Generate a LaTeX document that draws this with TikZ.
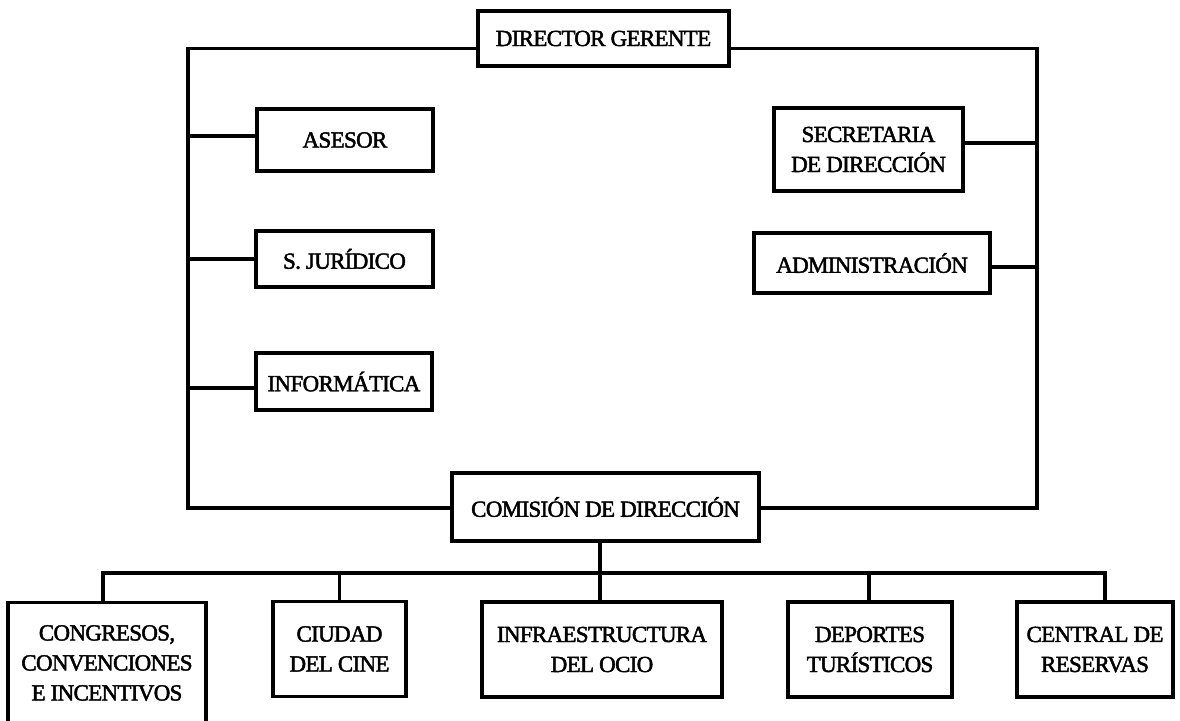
\documentclass[tikz,border=0pt]{standalone}
\usepackage{fontspec}
\newfontfamily\boxfont{Liberation Serif}[FakeBold=2,LetterSpace=-3]
\usetikzlibrary{calc}
\tikzset{
  box/.style={draw, line width=3.2pt, rectangle, inner sep=0pt, align=center,
    font=\boxfont\fontsize{23}{30}\selectfont},
  boxtext/.style={inner sep=0pt, align=center, font=\boxfont\fontsize{23}{30}\selectfont},
  conn/.style={line width=3.2pt, line join=miter}
}
\begin{document}
\begin{tikzpicture}[x=1pt,y=-1pt]
\clip (0,0) rectangle (1180,720);
\fill[white] (0,0) rectangle (1180,720);
% upper boxes
\node[box, minimum width=251, minimum height=55] (dir) at (603.5,38.5) {DIRECTOR GERENTE};
\node[box, minimum width=176, minimum height=62] (ases) at (345,140) {ASESOR};
\node[box, minimum width=177, minimum height=56] (jur) at (344.5,259) {S. JURÍDICO};
\node[box, minimum width=176, minimum height=57] (inf) at (344,381.5) {INFORMÁTICA};
\node[box, minimum width=189, minimum height=83] (sec) at (868.5,149.5) {SECRETARIA\\DE DIRECCIÓN};
\node[box, minimum width=236, minimum height=60] (adm) at (872,263) {ADMINISTRACIÓN};
\node[box, minimum width=307, minimum height=68] (com) at (605.5,507) {COMISIÓN DE DIRECCIÓN};
% lower boxes
\node[box, minimum width=198, minimum height=140, anchor=north] (cong) at (107,601) {};
\node[boxtext] (congt) at (107,663) {CONGRESOS,\\CONVENCIONES\\E INCENTIVOS};
\node[box, minimum width=133, minimum height=95] (ciu) at (339.5,649) {CIUDAD\\DEL CINE};
\node[box, minimum width=240, minimum height=95] (infra) at (602,649.5) {INFRAESTRUCTURA\\DEL OCIO};
\node[box, minimum width=164, minimum height=95] (dep) at (870,649.5) {DEPORTES\\TURÍSTICOS};
\node[box, minimum width=156, minimum height=95] (cen) at (1095,649.5) {CENTRAL DE\\RESERVAS};
% frame coordinates
\coordinate (tl) at (188,48.5);
\coordinate (tr) at (1037,48.5);
\coordinate (bl) at (188,508);
\coordinate (br) at (1037,508);
\coordinate (bus) at (600,573);
% frame
\draw[conn] ([yshift=-10pt]dir.west) -- (tl) -- (bl) -- (com.west |- bl);
\draw[conn] ([yshift=-10pt]dir.east) -- (tr) -- (br) -- (com.east |- br);
% staff connectors
\draw[conn] ([yshift=4pt]ases.west) -- ([yshift=4pt]ases.west -| tl);
\draw[conn] (jur.west) -- (jur.west -| tl);
\draw[conn] ([yshift=-6.5pt]inf.west) -- ([yshift=-6.5pt]inf.west -| tl);
\draw[conn] ([yshift=6.5pt]sec.east) -- ([yshift=6.5pt]sec.east -| tr);
\draw[conn] ([yshift=-4pt]adm.east) -- ([yshift=-4pt]adm.east -| tr);
% lower bus
\draw[conn] (com.south -| bus) -- ([xshift=-2pt]infra.north);
\draw[conn] ([xshift=-4pt]cong.north) -- ([xshift=-4pt]cong.north |- bus) -- ([xshift=10pt]cen.north |- bus) -- ([xshift=10pt]cen.north);
\draw[conn] (ciu.north) -- (ciu.north |- bus);
\draw[conn] ([xshift=-1pt]dep.north) -- ([xshift=-1pt]dep.north |- bus);
\end{tikzpicture}
\end{document}
